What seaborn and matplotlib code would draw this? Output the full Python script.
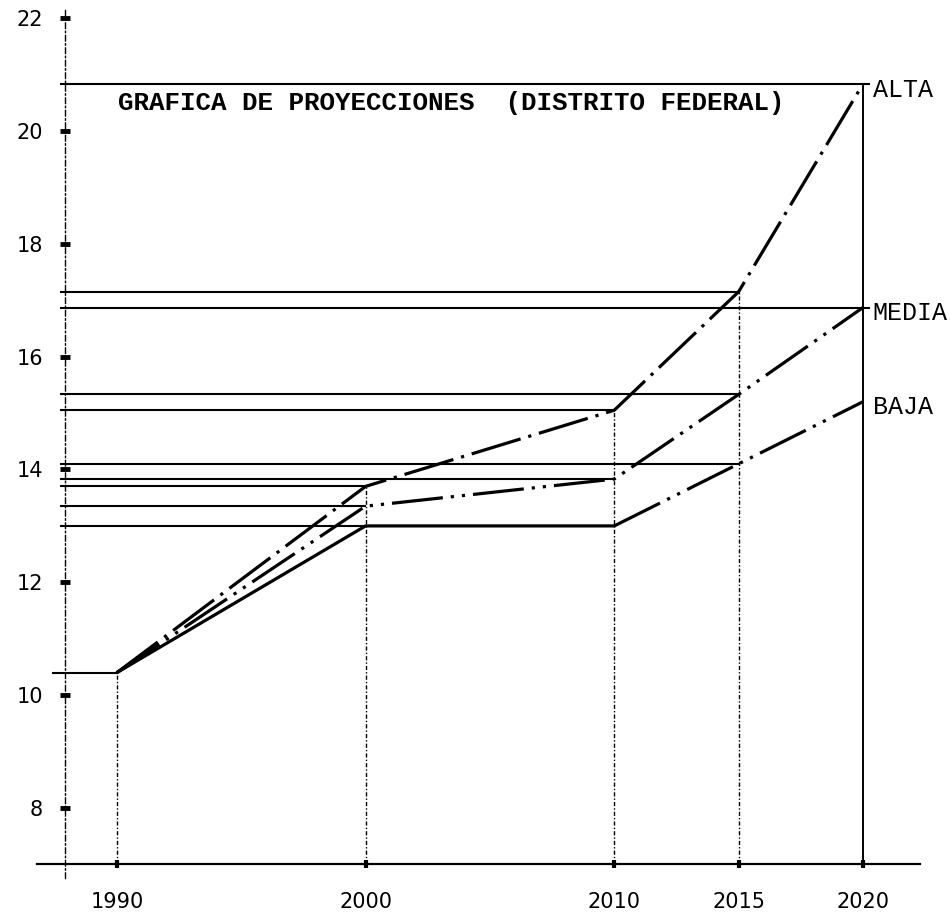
import matplotlib
matplotlib.use('Agg')
import matplotlib.pyplot as plt
import seaborn as sns

# chart data
years = [1990, 2000, 2010, 2015, 2020]
alta = [10.4, 13.7, 15.05, 17.15, 20.83]
media = [10.4, 13.35, 13.83, 15.33, 16.87]
baja = [10.4, 13.0, 13.0, 14.1, 15.2]
y_ticks = [8, 10, 12, 14, 16, 18, 20, 22]
title = 'GRAFICA DE PROYECCIONES  (DISTRITO FEDERAL)'

sns.set_style('white')
mono = 'Liberation Mono'

fig = plt.figure(figsize=(9.5, 9.13), dpi=100)
ax = fig.add_axes([0, 0, 1, 1])
ax.set_xlim(1985.30, 2023.50)
ax.set_ylim(6.14, 22.32)

# dash patterns
dash_dot = (0, (16, 2.5, 1, 2.5))
dash_dot_dot = (0, (16, 2.5, 1, 2.5, 1, 2.5))

# projection lines
sns.lineplot(x=years, y=alta, ax=ax, color='black', lw=2.3, linestyle=dash_dot)
sns.lineplot(x=years, y=media, ax=ax, color='black', lw=2.3, linestyle=dash_dot_dot)
sns.lineplot(x=years[:3], y=baja[:3], ax=ax, color='black', lw=2.3)
sns.lineplot(x=years[2:], y=baja[2:], ax=ax, color='black', lw=2.3, linestyle=dash_dot_dot)

# horizontal guide lines from the axis to each point
axis_x = 1987.9
guides = [(alta[i], years[i]) for i in range(1, 5)]
guides += [(media[i], years[i]) for i in range(1, 5)]
guides += [(baja[1], years[1]), (baja[3], years[3])]
for val, yr in guides:
    ax.hlines(val, axis_x - 0.2, yr + (0.3 if yr == 2020 else 0), color='black', lw=1.5)
ax.hlines(alta[0], axis_x - 0.5, years[0], color='black', lw=1.5)

# vertical guide lines
for i, yr in enumerate(years):
    top = max(alta[i], media[i], baja[i])
    if yr == 2020:
        ax.vlines(yr, 7.0, top, color='black', lw=1.4)
    else:
        ax.vlines(yr, 7.0, top, color='black', lw=1.0, linestyle=(0, (3, 1.5, 1, 1.5)))

# axes styling
for s in ['top', 'right']:
    ax.spines[s].set_visible(False)
ax.spines['left'].set_position(('data', axis_x))
ax.spines['left'].set_bounds(6.76, 22.14)
ax.spines['left'].set_linestyle((0, (4, 2, 1, 2)))
ax.spines['left'].set_linewidth(1.0)
ax.spines['left'].set_color('black')
ax.spines['bottom'].set_position(('data', 7.0))
ax.spines['bottom'].set_bounds(1986.8, 2022.3)
ax.spines['bottom'].set_linewidth(1.6)
ax.spines['bottom'].set_color('black')

ax.set_yticks(y_ticks)
ax.set_yticklabels([str(t) for t in y_ticks])
ax.set_xticks(years)
ax.set_xticklabels([str(y) for y in years])
ax.tick_params(axis='y', direction='inout', length=7, width=3.5, pad=12,
               labelsize=15, colors='black', left=True)
ax.tick_params(axis='x', direction='inout', length=6, width=3, pad=17,
               labelsize=15, colors='black', bottom=True)
ax.grid(False)

# title and series labels
ax.text(1990.05, 20.5, title, fontfamily=mono, fontsize=18.6, fontweight='bold',
        color='black', va='center', ha='left')
for name, vals in [('ALTA', alta), ('MEDIA', media), ('BAJA', baja)]:
    ax.annotate(name, (years[-1], vals[-1]), xytext=(7, -4), textcoords='offset points',
                fontfamily=mono, fontsize=18, color='black', va='center', ha='left')

fig.savefig('out.png', dpi=100)
